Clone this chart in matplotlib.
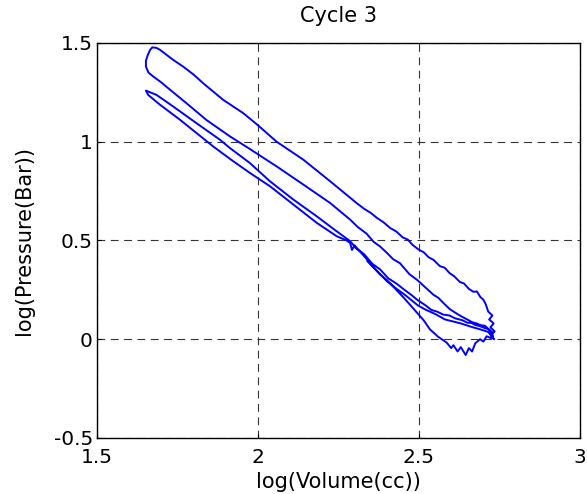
import matplotlib
matplotlib.use("Agg")
import matplotlib.pyplot as plt
from matplotlib.ticker import FormatStrFormatter

plt.rcParams['font.family'] = ['DejaVu Sans']
plt.rcParams['axes.unicode_minus'] = False

# upper line of the thin loop, BDC -> tip
up_v = [2.728, 2.715, 2.705, 2.690, 2.675, 2.664, 2.650, 2.635, 2.612, 2.595, 2.575, 2.556, 2.539,
        2.520, 2.496, 2.475, 2.455, 2.430, 2.405, 2.379, 2.355, 2.330, 2.305, 2.286, 2.244, 2.182,
        2.110, 2.037, 1.975, 1.913, 1.882, 1.809, 1.737, 1.685, 1.652]
up_p = [0.035, 0.052, 0.056, 0.066, 0.072, 0.082, 0.084, 0.096, 0.106, 0.120, 0.125, 0.140, 0.148,
        0.172, 0.198, 0.226, 0.250, 0.282, 0.308, 0.354, 0.382, 0.430, 0.460, 0.497, 0.547, 0.623,
        0.707, 0.800, 0.892, 0.968, 1.010, 1.094, 1.178, 1.237, 1.259]

# lower line of the thin loop, tip -> dip -> BDC
low_v = [1.659, 1.696, 1.758, 1.809, 1.861, 1.920, 1.975, 2.037, 2.110, 2.182, 2.244, 2.275, 2.286,
         2.292, 2.300, 2.330, 2.355, 2.379, 2.400, 2.425, 2.450, 2.472, 2.496, 2.515, 2.534, 2.560,
         2.586, 2.600, 2.607, 2.620, 2.630, 2.645, 2.655, 2.665, 2.675, 2.690, 2.700, 2.710, 2.725]
low_p = [1.237, 1.187, 1.111, 1.044, 0.976, 0.905, 0.842, 0.775, 0.682, 0.590, 0.522, 0.500, 0.488,
         0.452, 0.475, 0.420, 0.372, 0.328, 0.300, 0.258, 0.215, 0.175, 0.130, 0.095, 0.050, 0.012,
         -0.017, -0.045, -0.030, -0.062, -0.040, -0.080, -0.045, -0.062, -0.020, 0.000, -0.012, 0.015, 0.005]

# middle line, BDC -> left end of the outer loop
mid_v = [2.730, 2.720, 2.705, 2.690, 2.679, 2.664, 2.650, 2.638, 2.622, 2.596, 2.575, 2.560, 2.545,
         2.520, 2.496, 2.470, 2.441, 2.420, 2.400, 2.379, 2.360, 2.337, 2.310, 2.286, 2.224, 2.141,
         2.058, 1.975, 1.913, 1.840, 1.778, 1.727, 1.700, 1.675, 1.660, 1.652, 1.652, 1.658, 1.665,
         1.672, 1.685]
mid_p = [0.017, 0.045, 0.068, 0.072, 0.080, 0.087, 0.100, 0.110, 0.125, 0.152, 0.185, 0.210, 0.225,
         0.262, 0.298, 0.330, 0.385, 0.405, 0.438, 0.470, 0.492, 0.535, 0.568, 0.606, 0.690, 0.783,
         0.875, 0.963, 1.027, 1.110, 1.195, 1.263, 1.300, 1.330, 1.350, 1.380, 1.410, 1.440, 1.465,
         1.478, 1.475]

# outer top line, peak -> BDC
top_v = [1.696, 1.737, 1.768, 1.800, 1.830, 1.892, 1.954, 1.998, 2.058, 2.141, 2.224, 2.306, 2.330,
         2.350, 2.369, 2.390, 2.410, 2.430, 2.450, 2.465, 2.480, 2.498, 2.515, 2.530, 2.545, 2.565,
         2.580, 2.595, 2.610, 2.627, 2.640, 2.655, 2.669, 2.680, 2.690, 2.700, 2.708, 2.715, 2.728,
         2.718, 2.732, 2.722, 2.735, 2.724, 2.733]
top_p = [1.465, 1.414, 1.380, 1.340, 1.296, 1.212, 1.145, 1.086, 1.000, 0.909, 0.800, 0.690, 0.660,
         0.640, 0.615, 0.592, 0.564, 0.545, 0.515, 0.505, 0.478, 0.455, 0.440, 0.415, 0.402, 0.370,
         0.362, 0.335, 0.318, 0.290, 0.282, 0.255, 0.240, 0.242, 0.215, 0.200, 0.175, 0.140, 0.120,
         0.100, 0.080, 0.060, 0.040, 0.020, 0.000]

# last piece, BDC -> part way up
end_v = [2.715, 2.690, 2.664, 2.630, 2.581, 2.550, 2.520, 2.496, 2.460, 2.425, 2.400, 2.370, 2.340]
end_p = [0.037, 0.050, 0.062, 0.080, 0.100, 0.128, 0.150, 0.172, 0.220, 0.262, 0.295, 0.345, 0.395]

logv = up_v + low_v + mid_v + top_v + end_v
logp = up_p + low_p + mid_p + top_p + end_p

fig = plt.figure(figsize=(5.87, 4.94), dpi=100)
ax = fig.add_axes([0.1652, 0.1134, 0.8228, 0.7996])
ax.plot(logv, logp, color=(0, 0, 1), linewidth=1.4)

ax.set_xlim(1.5, 3)
ax.set_ylim(-0.5, 1.5)
ax.set_xticks([1.5, 2, 2.5, 3])
ax.set_yticks([-0.5, 0, 0.5, 1, 1.5])
ax.xaxis.set_major_formatter(FormatStrFormatter('%g'))
ax.yaxis.set_major_formatter(FormatStrFormatter('%g'))
ax.tick_params(direction='in', length=3, labelsize=14.5, colors='k')
ax.tick_params(axis='x', pad=7)
ax.tick_params(axis='y', pad=3)
ax.grid(True, color='#333333', linestyle=(0, (7, 5)), linewidth=0.8)
for s in ax.spines.values():
    s.set_linewidth(1.0)

ax.set_title('Cycle 3', fontsize=15, pad=15)
ax.set_xlabel('log(Volume(cc))', fontsize=15)
ax.set_ylabel('log(Pressure(Bar))', fontsize=15)
ax.xaxis.set_label_coords(0.5, -0.085)
ax.yaxis.set_label_coords(-0.13, 0.5)

fig.savefig('out.png', dpi=100)
